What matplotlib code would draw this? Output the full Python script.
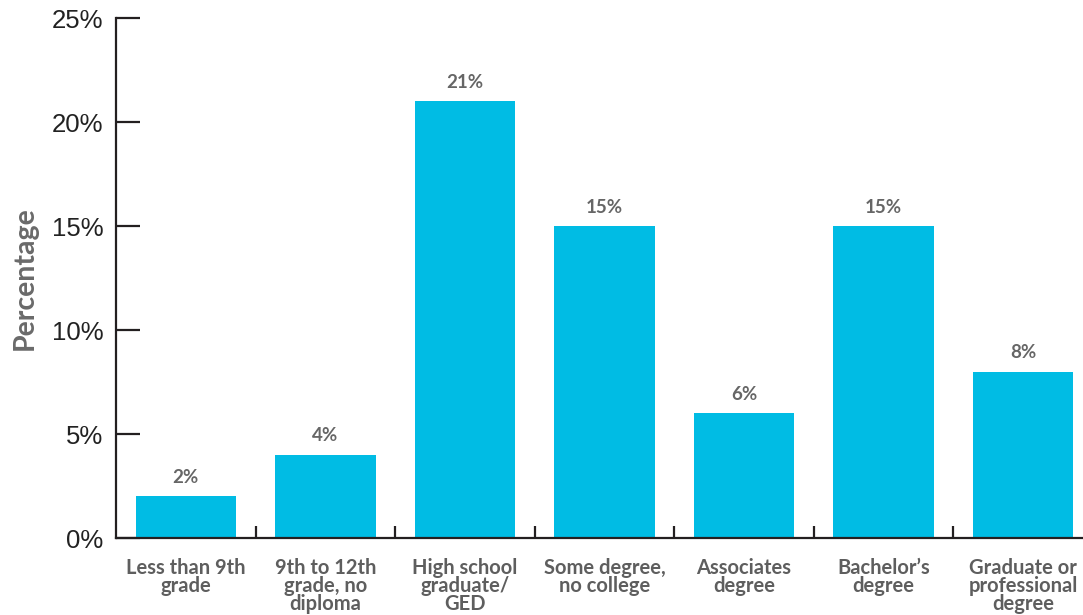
import numpy as np
import matplotlib.pyplot as plt
from matplotlib.ticker import FixedLocator

# Data
categories = ['Less than 9th\ngrade', '9th to 12th\ngrade, no\ndiploma',
              'High school\ngraduate/\nGED', 'Some degree,\nno college',
              'Associates\ndegree', 'Bachelor\u2019s\ndegree',
              'Graduate or\nprofessional\ndegree']
values = [2, 4, 21, 15, 6, 15, 8]
y_ticks = [0, 5, 10, 15, 20, 25]

bar_color = '#00BCE4'
gray = '#5e5e5e'
dark = '#231f20'

plt.rcParams['font.family'] = ['Lato', 'DejaVu Sans']

fig = plt.figure(figsize=(10.83, 6.15), dpi=100)
ax = fig.add_axes([116 / 1083, 1 - 538 / 615, 1 - 116 / 1083, 520 / 615])

x = np.arange(len(values))
bars = ax.bar(x, values, width=0.72, color=bar_color, zorder=2)

# value labels above bars
for xi, v in zip(x, values):
    ax.text(xi, v + 0.5, f'{v}%', ha='center', va='bottom',
            fontsize=13.5, fontweight='bold', color='#666666')

ax.set_xlim(-0.5, 6.43)
ax.set_ylim(0, 25)

ax.set_yticks(y_ticks)
ax.set_yticklabels([f'{t}%' for t in y_ticks], family=['Liberation Sans', 'DejaVu Sans'])
ax.tick_params(axis='y', direction='in', length=17, width=1.6, color=dark,
               labelsize=18.5, pad=9, labelcolor='#222222')

ax.set_xticks(x)
ax.set_xticklabels(categories, fontsize=14.5, fontweight='bold', color=gray,
                   linespacing=0.88)
ax.tick_params(axis='x', which='major', length=0, pad=14.5)
ax.xaxis.set_minor_locator(FixedLocator(x[:-1] + 0.5))
ax.tick_params(axis='x', which='minor', direction='in', length=8.5,
               width=1.6, color=dark)

for side in ['top', 'right']:
    ax.spines[side].set_visible(False)
for side in ['left', 'bottom']:
    ax.spines[side].set_linewidth(1.6)
    ax.spines[side].set_color(dark)

ax.set_ylabel('Percentage', fontsize=20.5, fontweight='bold', color='#6a6a6a',
              labelpad=10)

fig.savefig('out.png', dpi=100)
